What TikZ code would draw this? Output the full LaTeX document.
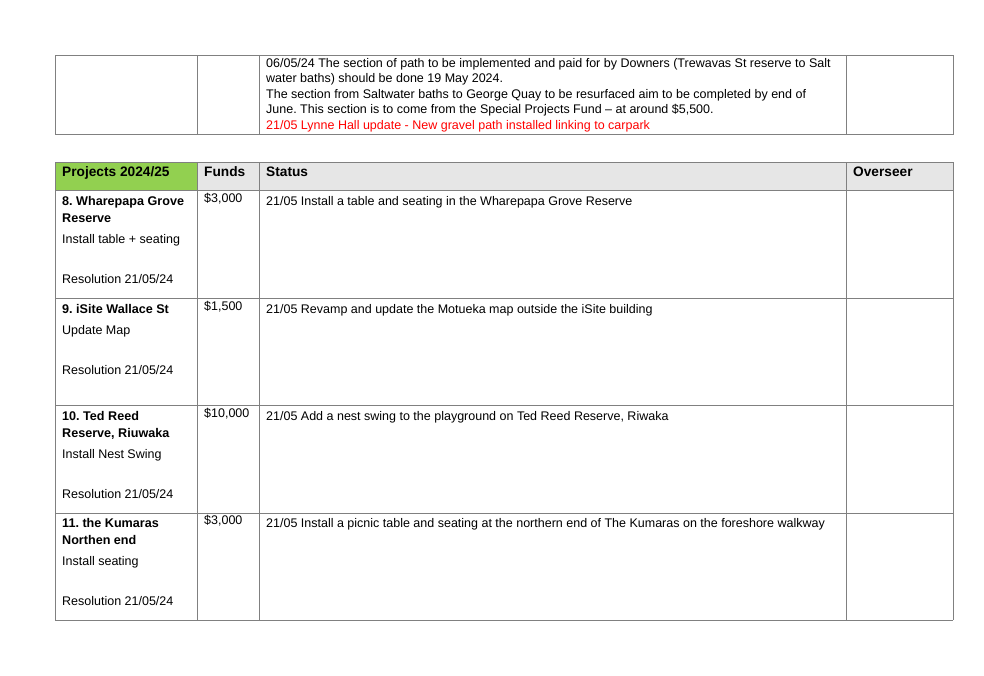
\documentclass[tikz,border=0pt]{standalone}
\usepackage{fontspec}
\setmainfont{Liberation Sans}
\usetikzlibrary{positioning}
\definecolor{gridgray}{HTML}{808080}
\definecolor{headgray}{HTML}{E6E6E6}
\definecolor{headgreen}{HTML}{92D050}
\definecolor{notered}{HTML}{FF0000}
\frenchspacing
\begin{document}
\begin{tikzpicture}[x=1pt,y=-1pt,
      every node/.style={inner sep=0pt,anchor=base west,font=\fontsize{12.5}{14}\selectfont},
      head/.style={font=\fontsize{13.7}{15}\selectfont\bfseries},
      title/.style={font=\fontsize{12.6}{14}\selectfont\bfseries},
      rule/.style={draw=gridgray,line width=1pt}]
      \useasboundingbox (0,0) rectangle (984,675);
      % upper table
      \draw[rule] (55,55) rectangle (953,134);
      \foreach \x in {197,259,846} \draw[rule] (\x,55) -- (\x,134);
      \node (n1) at (266,67) {06/05/24 The section of path to be implemented and paid for by Downers (Trewavas St reserve to Salt};
      \node (n2) at (266,82.5) {water baths) should be done 19 May 2024.};
      \node (n3) at (266,98) {The section from Saltwater baths to George Quay to be resurfaced aim to be completed by end of};
      \node (n4) at (266,113.5) {June. This section is to come from the Special Projects Fund -- at around \$5,500.};
      \node[text=notered] (n5) at (266,129) {21/05 Lynne Hall update - New gravel path installed linking to carpark};
      % lower table
      \fill[headgreen] (55,162) rectangle (197,190);
      \fill[headgray] (197,162) rectangle (953,190);
      \foreach \y in {162,190,298,405,513,620} \draw[rule] (55,\y) -- (953,\y);
      \foreach \x in {55,197,259,846,953} \draw[rule] (\x,162) -- (\x,620);
      \node[head] (projects) at (62,176) {Projects 2024/25};
      \node[head] (funds) at (204,176) {Funds};
      \node[head] (status) at (266,176) {Status};
      \node[head] (overseer) at (853,176) {Overseer};
      % row 8
      \node[title] (t8a) at (62,205) {8. Wharepapa Grove};
      \node[title] (t8b) at (62,222) {Reserve};
      \node (a8) at (62,243) {Install table + seating};
      \node (r8) at (62,283) {Resolution 21/05/24};
      \node (f8) at (204,202) {\$3,000};
      \node (s8) at (266,205) {21/05 Install a table and seating in the Wharepapa Grove Reserve};
      % row 9
      \node[title] (t9a) at (62,313) {9. iSite Wallace St};
      \node (a9) at (62,334) {Update Map};
      \node (r9) at (62,374) {Resolution 21/05/24};
      \node (f9) at (204,310) {\$1,500};
      \node (s9) at (266,313) {21/05 Revamp and update the Motueka map outside the iSite building};
      % row 10
      \node[title] (t10a) at (62,420) {10. Ted Reed};
      \node[title] (t10b) at (62,437) {Reserve, Riuwaka};
      \node (a10) at (62,458) {Install Nest Swing};
      \node (r10) at (62,498) {Resolution 21/05/24};
      \node (f10) at (204,417) {\$10,000};
      \node (s10) at (266,420) {21/05 Add a nest swing to the playground on Ted Reed Reserve, Riwaka};
      % row 11
      \node[title] (t11a) at (62,527) {11. the Kumaras};
      \node[title] (t11b) at (62,544) {Northen end};
      \node (a11) at (62,565) {Install seating};
      \node (r11) at (62,605) {Resolution 21/05/24};
      \node (f11) at (204,524) {\$3,000};
      \node (s11) at (266,527) {21/05 Install a picnic table and seating at the northern end of The Kumaras on the foreshore walkway};
    \end{tikzpicture}
\end{document}
